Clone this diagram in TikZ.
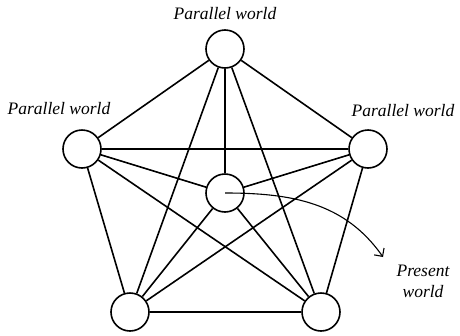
\documentclass[tikz,border=0pt]{standalone}
\usepackage{fontspec}
\setmainfont{Liberation Serif}
\usetikzlibrary{arrows.meta}
\begin{document}
\begin{tikzpicture}[x=1pt,y=-1pt,
  world/.style={circle,draw,line width=1.6pt,minimum size=38pt,inner sep=0pt,fill=white},
  link/.style={line width=1.6pt},
  lbl/.style={font=\itshape\fontsize{17.5}{21}\selectfont,inner sep=0pt}]
\useasboundingbox (0,0) rectangle (460,335);
\coordinate (c0) at (225,193);
\node[world] (t) at (225,49) {};
\node[world] (l) at (82,149) {};
\node[world] (r) at (368,149) {};
\node[world] (bl) at (130,312) {};
\node[world] (br) at (321,312) {};
\node[world] (c) at (225,193) {};
\foreach \a/\b in {t/l,t/r,t/bl,t/br,t/c,l/r,l/bl,l/br,l/c,r/bl,r/br,r/c,bl/br,bl/c,br/c}
  \draw[link] (\a) -- (\b);
\node[lbl] (pt) at (225,14) {Parallel world};
\node[lbl] (pl) at (59,109) {Parallel world};
\node[lbl] (pr) at (403,111) {Parallel world};
\node[lbl,align=center] (pw) at (423,281) {Present\\world};
\coordinate (tip) at (383,257);
\draw[line width=1.1pt,-{Straight Barb[length=6pt,width=12pt]}] (c0) to[out=0,in=125] (tip);
\end{tikzpicture}
\end{document}
